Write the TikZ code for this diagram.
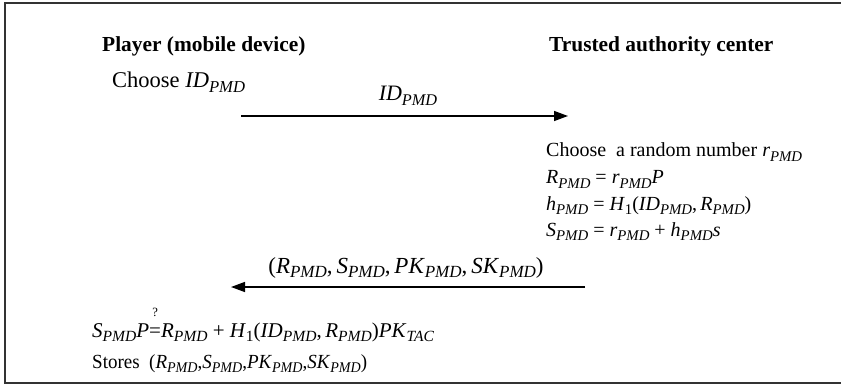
\documentclass[tikz,border=0pt]{standalone}
\usepackage{fontspec}
\setmainfont{Liberation Serif}
\usepackage{graphicx}
\usetikzlibrary{arrows.meta}
\newcommand{\subs}[1]{\raisebox{-0.45ex}{\scalebox{0.74}{\itshape #1}}}
\newcommand{\V}[2]{\textit{#1}\subs{#2}}
\newcommand{\Hone}{\textit{H}\raisebox{-0.45ex}{\scalebox{0.74}{1}}}
\newcommand{\qeq}{\mbox{\rlap{\makebox[\fontcharwd\font`\=][c]{\raisebox{1.0em}{\scalebox{0.6}{?}}}}=}}
\begin{document}
\begin{tikzpicture}[x=1pt,y=-1pt,
  txt/.style={anchor=base west,inner sep=0pt,font=\fontsize{20}{24}\selectfont},
  head/.style={anchor=base west,inner sep=0pt,font=\fontsize{21.4}{25}\selectfont\bfseries},
  msg/.style={-{Triangle[length=14pt,width=10pt]},line width=1.4pt},
  frame/.style={line width=1.6pt,draw=black!80}]
\useasboundingbox (0,0) rectangle (841,385);
\draw[frame] (841,3) -- (5,3) -- (5,383) -- (841,383);
\node[head] (pl) at (102,52) {Player (mobile device)};
\node[head] (ta) at (549,52) {Trusted authority center};
\node[txt,font=\fontsize{22.5}{26}\selectfont] (ch) at (112,88) {Choose \V{ID}{PMD}};
\coordinate (a1s) at (241,116);
\coordinate (a1e) at (568,116);
\draw[msg] (a1s) -- (a1e);
\node[txt,anchor=base,font=\fontsize{22}{26}\selectfont] (l1) at (408,101) {\V{ID}{PMD}};
\node[txt] (r1) at (546,157) {Choose~ a random number \V{r}{PMD}};
\node[txt] (r2) at (546,184) {\V{R}{PMD} = \V{r}{PMD}\textit{P}};
\node[txt] (r3) at (546,210) {\V{h}{PMD} = \Hone(\V{ID}{PMD},\,\V{R}{PMD})};
\node[txt] (r4) at (546,236) {\V{S}{PMD} = \V{r}{PMD} + \V{h}{PMD}\textit{s}};
\coordinate (a2s) at (585,287);
\coordinate (a2e) at (231,287);
\draw[msg] (a2s) -- (a2e);
\node[txt,anchor=base,font=\fontsize{23}{26}\selectfont] (l2) at (406,273) {(\V{R}{PMD},\,\V{S}{PMD},\,\V{PK}{PMD},\,\V{SK}{PMD})};
\node[txt,font=\fontsize{21}{25}\selectfont] (b1) at (92,337) {\V{S}{PMD}\textit{P}\qeq\V{R}{PMD} + \Hone(\V{ID}{PMD},\,\V{R}{PMD})\V{PK}{TAC}};
\node[txt] (b2) at (92,368) {\scalebox{0.95}[1]{Stores~ (\V{R}{PMD},\V{S}{PMD},\V{PK}{PMD},\V{SK}{PMD})}};
\end{tikzpicture}
\end{document}
